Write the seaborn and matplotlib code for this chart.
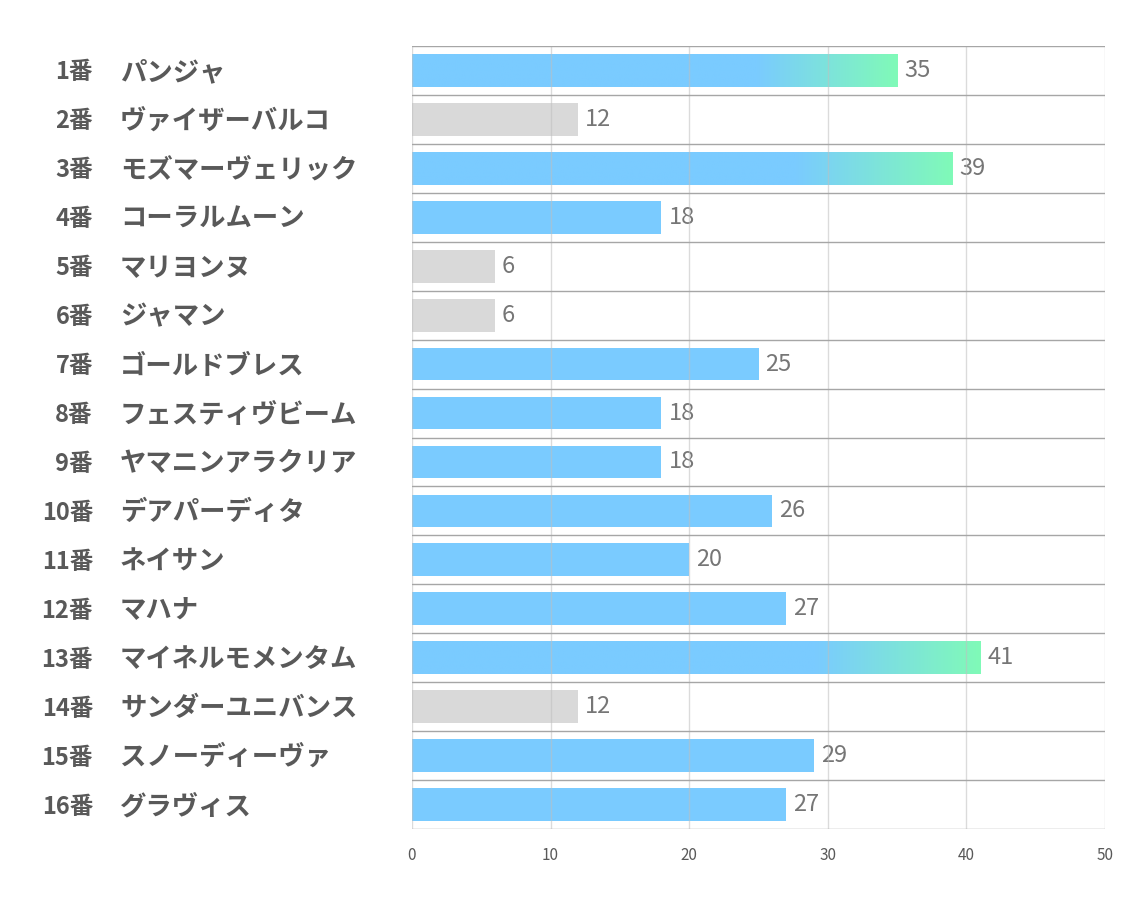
import matplotlib
matplotlib.use("Agg")
import matplotlib.pyplot as plt
import numpy as np
import seaborn as sns
from matplotlib.colors import LinearSegmentedColormap
from matplotlib.transforms import blended_transform_factory, offset_copy

numbers = ["1番", "2番", "3番", "4番", "5番", "6番", "7番", "8番",
           "9番", "10番", "11番", "12番", "13番", "14番", "15番", "16番"]
horses = ["パンジャ", "ヴァイザーバルコ", "モズマーヴェリック", "コーラルムーン",
          "マリヨンヌ", "ジャマン", "ゴールドブレス", "フェスティヴビーム",
          "ヤマニンアラクリア", "デアパーディタ", "ネイサン", "マハナ",
          "マイネルモメンタム", "サンダーユニバンス", "スノーディーヴァ", "グラヴィス"]
scores = [35, 12, 39, 18, 6, 6, 25, 18, 18, 26, 20, 27, 41, 12, 29, 27]
x_ticks = [0, 10, 20, 30, 40, 50]

BLUE = "#7ACBFF"
GREEN = "#80FAB8"
GRAY = "#D9D9D9"

sns.set_style("white")
plt.rcParams["font.family"] = ["Noto Sans CJK JP", "DejaVu Sans"]

fig = plt.figure(figsize=(11.34, 9.07), dpi=100)
ax = fig.add_axes([412 / 1134, 1 - 829 / 907, 693 / 1134, 783 / 907])

sns.barplot(x=scores, y=horses, orient="h", color=BLUE, width=0.67,
            saturation=1, ax=ax)

# gradient only over the last ~30% of the long bars
grad = LinearSegmentedColormap.from_list(
    "g", [(0, BLUE), (0.71, BLUE), (1, GREEN)], N=256)
for patch, v in zip(ax.patches, scores):
    patch.set_edgecolor("none")
    if v <= 12:
        patch.set_facecolor(GRAY)
    elif v >= 35:
        x0, y0 = patch.get_x(), patch.get_y()
        w, h = patch.get_width(), patch.get_height()
        ramp = np.linspace(0, 1, 256).reshape(1, -1)
        im = ax.imshow(ramp, cmap=grad, aspect="auto",
                       extent=(x0, x0 + w, y0 + h, y0), zorder=patch.get_zorder())
        im.set_clip_path(patch)

ax.bar_label(ax.containers[0], labels=[str(v) for v in scores], padding=5,
             color="#767676", fontsize=17)

ax.set_xlim(0, 50)
ax.set_ylim(len(horses) - 0.5, -0.5)
ax.set_xticks(x_ticks)
ax.set_xticklabels([str(t) for t in x_ticks])
ax.tick_params(axis="x", length=0, pad=13, labelsize=11, labelcolor="#595959")
ax.set_yticks([])
ax.set_xlabel("")
ax.set_ylabel("")
for s in ax.spines.values():
    s.set_visible(False)

for t in x_ticks:
    ax.axvline(t, color="#BFBFBF", alpha=0.55, lw=1, zorder=5)
for b in np.arange(-0.5, len(horses), 1.0):
    ax.axhline(b, color="#A6A6A6", lw=1, zorder=6)

tr = blended_transform_factory(ax.transAxes, ax.transData)
tr = offset_copy(tr, fig=fig, x=0, y=-2, units="dots")
for i, (n, h) in enumerate(zip(numbers, horses)):
    ax.text((93 - 412) / 693, i, n, transform=tr, ha="right", va="center",
            fontsize=17, fontweight="bold", color="#595959")
    ax.text((120 - 412) / 693, i, h, transform=tr, ha="left", va="center",
            fontsize=19, fontweight="bold", color="#595959")

fig.savefig("out.png", dpi=100, facecolor="white")
